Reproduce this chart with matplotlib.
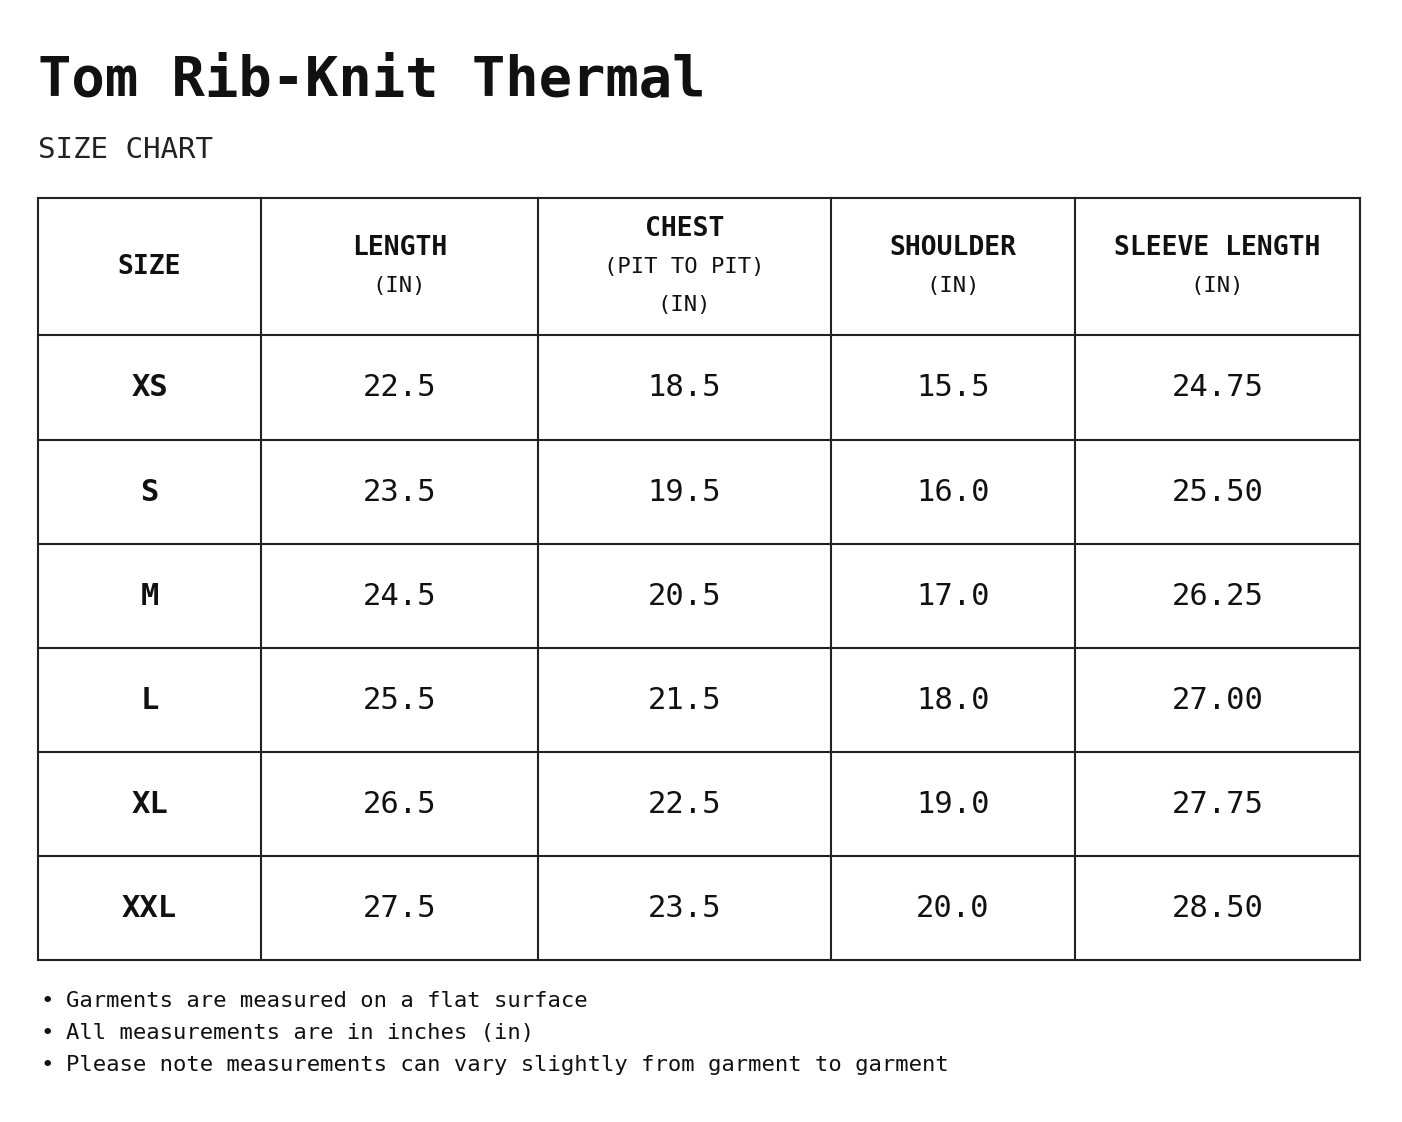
import matplotlib
matplotlib.use("Agg")
import matplotlib.pyplot as plt

title = "Tom Rib-Knit Thermal"
subtitle = "SIZE CHART"
headers = [["SIZE"], ["LENGTH", "(IN)"], ["CHEST", "(PIT TO PIT)", "(IN)"], ["SHOULDER", "(IN)"], ["SLEEVE LENGTH", "(IN)"]]
sizes = ["XS", "S", "M", "L", "XL", "XXL"]
length = ["22.5", "23.5", "24.5", "25.5", "26.5", "27.5"]
chest = ["18.5", "19.5", "20.5", "21.5", "22.5", "23.5"]
shoulder = ["15.5", "16.0", "17.0", "18.0", "19.0", "20.0"]
sleeve = ["24.75", "25.50", "26.25", "27.00", "27.75", "28.50"]
notes = ["Garments are measured on a flat surface",
         "All measurements are in inches (in)",
         "Please note measurements can vary slightly from garment to garment"]

W, H = 1402, 1122
fig = plt.figure(figsize=(W/100, H/100), dpi=100)
ax = fig.add_axes([0, 0, 1, 1])
ax.set_xlim(0, W); ax.set_ylim(H, 0); ax.axis("off")
F = "DejaVu Sans Mono"

ax.text(38, 96, title, fontsize=40, fontweight="bold", family=F, va="baseline", color="#111")
ax.text(38, 158, subtitle, fontsize=21, family=F, va="baseline", color="#222")

xs = [38, 261, 538, 831, 1075, 1360]
ys = [198, 335, 440, 544, 648, 752, 856, 960]
for x in xs:
    ax.plot([x, x], [ys[0], ys[-1]], color="#222", lw=1.5)
for y in ys:
    ax.plot([xs[0], xs[-1]], [y, y], color="#222", lw=1.5)

cx = [(xs[i] + xs[i+1]) / 2 for i in range(5)]
for i, h in enumerate(headers):
    n = len(h)
    ymid = (ys[0] + ys[1]) / 2
    lines_y = [ymid + (k - (n - 1) / 2) * 38 for k in range(n)]
    for k, t in enumerate(h):
        bold = k == 0
        ax.text(cx[i], lines_y[k], t, fontsize=19 if bold else 16, fontweight="bold" if bold else "normal",
                family=F, ha="center", va="center", color="#111")

cols = [sizes, length, chest, shoulder, sleeve]
for r in range(len(sizes)):
    ym = (ys[r+1] + ys[r+2]) / 2
    for c, col in enumerate(cols):
        ax.text(cx[c], ym, col[r], fontsize=22, fontweight="bold" if c == 0 else "normal",
                family=F, ha="center", va="center", color="#111")

for k, n in enumerate(notes):
    y = 1001 + k * 32
    ax.text(40, y, "•", fontsize=16, family=F, va="center", color="#111")
    ax.text(66, y, n, fontsize=16, family=F, va="center", color="#111")

fig.savefig("out.png", dpi=100, facecolor="white")
